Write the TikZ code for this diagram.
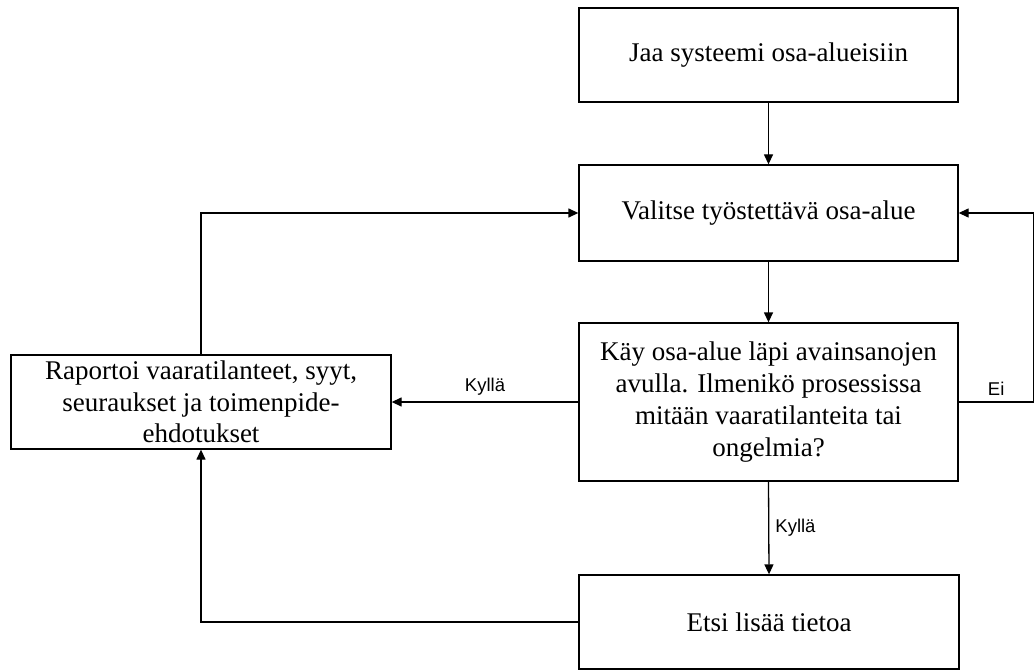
\documentclass[tikz,border=0pt]{standalone}
\usepackage{fontspec}
\setmainfont{Liberation Serif}
\newfontfamily\labelfont{Liberation Sans}
\usetikzlibrary{positioning,arrows.meta,calc}
\tikzset{
  wbox/.style={rectangle, draw, align=center, line width=1.3pt,
               minimum width=379pt, minimum height=94pt, inner sep=4pt,
               font=\fontsize{27}{31.7}\selectfont},
  ar/.style={-{Triangle[length=10pt,width=9pt]}, line width=1.3pt},
  lbl/.style={font=\labelfont\fontsize{18.5}{20}\selectfont, inner sep=6pt},
}
\begin{document}
\begin{tikzpicture}[x=1pt,y=-1pt]
  \useasboundingbox (0,0) rectangle (1035,671);
  \node[wbox] (jaa) at (768.5,55) {Jaa systeemi osa-alueisiin};
  \node[wbox, minimum height=96pt] (valitse) at (768.5,213) {Valitse työstettävä osa-alue};
  \node[wbox, minimum height=158pt] (kay) at (768.5,402)
    {Käy osa-alue läpi avainsanojen\\
     avulla. Ilmenikö prosessissa\\
     mitään vaaratilanteita tai\\
     ongelmia?};
  \node[wbox, minimum width=380pt] (raportoi) at (201,402)
    {Raportoi vaaratilanteet, syyt,\\
     seuraukset ja toimenpide-\\
     ehdotukset};
  \node[wbox, minimum width=380pt] (etsi) at (769,622) {Etsi lisää tietoa};
  \draw[ar] (jaa.south) -- (valitse.north);
  \draw[ar] (valitse.south) -- (kay.north);
  \draw[ar] (kay.west) -- (raportoi.east)
     node[midway,above,lbl]{Kyllä};
  \draw[ar] (kay.south) -- (etsi.north)
     node[midway,right,lbl]{Kyllä};
  \draw[ar] (etsi.west) -| (raportoi.south);
  \draw[ar] (raportoi.north) |- (valitse.west);
  \draw[ar] (kay.east) -- ++(75,0) node[midway,above,lbl]{Ei}
     coordinate (oikea) |- (valitse.east);
\end{tikzpicture}
\end{document}
